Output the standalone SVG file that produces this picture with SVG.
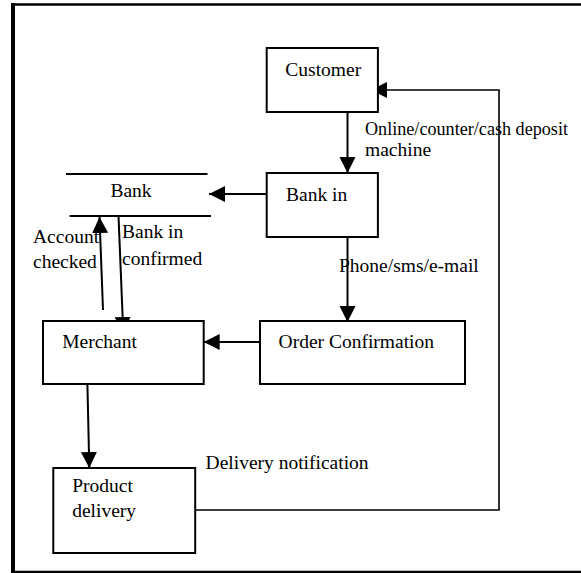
<svg xmlns="http://www.w3.org/2000/svg" width="581" height="573" viewBox="0 0 581 573">
<style>
.box{fill:#fff;stroke:#000;stroke-width:2}
.ln{fill:none;stroke:#000;stroke-width:2}
.fb{fill:none;stroke:#000;stroke-width:1.6}
</style>
<defs>
<marker id="ah" markerUnits="userSpaceOnUse" markerWidth="17" markerHeight="17" refX="16" refY="8" orient="auto">
<path d="M0,0 L16,8 L0,16 Z" fill="#000"/>
</marker>
</defs>
<rect width="581" height="573" fill="#fff"/>
<g id="frame">
<line x1="13" y1="3" x2="13" y2="573" stroke="#000" stroke-width="4"/>
<line x1="11" y1="4.5" x2="581" y2="4.5" stroke="#000" stroke-width="2.5"/>
<line x1="11" y1="572" x2="581" y2="572" stroke="#000" stroke-width="2.5"/>
</g>
<g font-family="'Liberation Serif', 'DejaVu Serif', serif" font-size="19.5" fill="#000">
<g id="connectors">
<line class="ln" x1="347.5" y1="110" x2="347.5" y2="173" marker-end="url(#ah)"/>
<line class="ln" x1="266.7" y1="194" x2="209" y2="194" marker-end="url(#ah)"/>
<line class="ln" x1="347.5" y1="237" x2="347.5" y2="322" marker-end="url(#ah)"/>
<line class="ln" x1="260" y1="342" x2="203.7" y2="342" marker-end="url(#ah)"/>
<line class="ln" x1="103" y1="310" x2="99.5" y2="217" marker-end="url(#ah)"/>
<line class="ln" x1="118.5" y1="216" x2="123.3" y2="333" marker-end="url(#ah)"/>
<line class="ln" x1="87.4" y1="384" x2="89.3" y2="468" marker-end="url(#ah)"/>
<polyline class="fb" points="195,510 499,510 499,90 371,90" marker-end="url(#ah)"/>
<text x="365" y="135" textLength="203" lengthAdjust="spacingAndGlyphs">Online/counter/cash deposit</text>
<text x="365" y="156">machine</text>
<text x="339" y="272">Phone/sms/e-mail</text>
<text x="33" y="243">Account</text>
<text x="33" y="268">checked</text>
<text x="122" y="238">Bank in</text>
<text x="122" y="265">confirmed</text>
<text x="205.6" y="469">Delivery notification</text>
</g>
<g id="customer">
<rect class="box" x="266.7" y="48" width="111.2" height="64"/>
<text x="285.3" y="76">Customer</text>
</g>
<g id="bank-in">
<rect class="box" x="266.7" y="173" width="111.2" height="64"/>
<text x="286" y="201">Bank in</text>
</g>
<g id="bank">
<line class="ln" x1="66" y1="174" x2="207.5" y2="174"/>
<line class="ln" x1="69.6" y1="216" x2="211" y2="216"/>
<text x="110.4" y="197">Bank</text>
</g>
<g id="order-confirmation">
<rect class="box" x="260" y="321" width="205" height="63"/>
<text x="278.6" y="348">Order Confirmation</text>
</g>
<g id="merchant">
<rect class="box" x="43" y="321" width="160.7" height="63"/>
<text x="62.2" y="348">Merchant</text>
</g>
<g id="product-delivery">
<rect class="box" x="53.3" y="468" width="141.9" height="85"/>
<text x="72.2" y="492">Product</text>
<text x="72.2" y="517">delivery</text>
</g>
</g>
</svg>
